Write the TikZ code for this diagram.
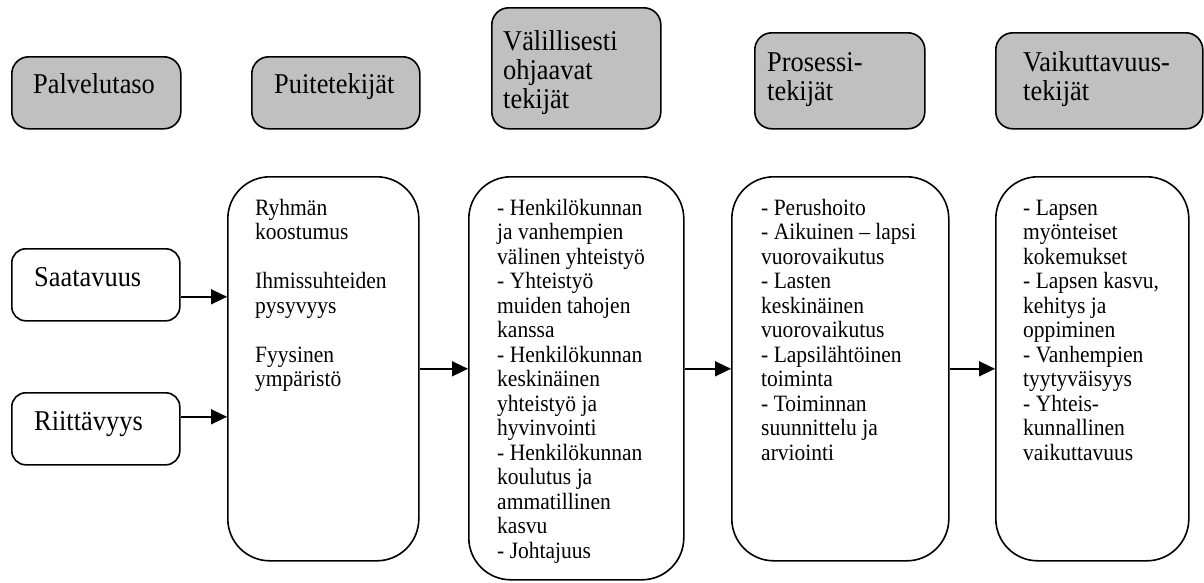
\documentclass[tikz,border=0pt]{standalone}
\usepackage{fontspec}
\setmainfont[FakeStretch=0.92]{Liberation Serif}
\usetikzlibrary{arrows.meta,calc}
\definecolor{hdrgray}{RGB}{192,192,192}
\begin{document}
\begin{tikzpicture}[x=1pt,y=-1pt,
  hdr/.style={draw, line width=1.6pt, fill=hdrgray, rounded corners=17pt, anchor=north west, inner sep=0pt},
  side/.style={draw, line width=1.6pt, rounded corners=14pt, anchor=north west, inner sep=0pt},
  big/.style={draw, line width=1.6pt, rounded corners=42pt, anchor=north west, inner sep=0pt},
  htext/.style={anchor=north west, inner sep=0pt, align=left, font=\fontsize{28.7}{29}\selectfont},
  btext/.style={anchor=north west, inner sep=0pt, align=left, font=\fontsize{23.4}{24.5}\selectfont},
  arr/.style={line width=1.6pt, -{Triangle[length=16pt,width=15pt]}}]
\useasboundingbox (0,0) rectangle (1204,582);

% header boxes
\node[hdr, minimum width=169pt, minimum height=72pt] (h1) at (11,56) {};
\node[hdr, minimum width=168pt, minimum height=72pt] (h2) at (251,56) {};
\node[hdr, minimum width=169pt, minimum height=121pt] (h3) at (491,7) {};
\node[hdr, minimum width=170pt, minimum height=96pt] (h4) at (754,32) {};
\node[hdr, minimum width=207pt, minimum height=96pt] (h5) at (995,32) {};

\node[htext] (h1t) at (33,72.7) {\strut Palvelutaso};
\node[htext] (h2t) at (274,72.7) {\strut Puitetekijät};
\node[htext] (h3t) at (503,29.7) {\strut Välillisesti\\ohjaavat\\tekijät};
\node[htext] (h4t) at (767,50.7) {\strut Prosessi-\\tekijät};
\node[htext] (h5t) at (1023,50.7) {\strut Vaikuttavuus-\\tekijät};

% side boxes
\node[side, minimum width=168pt, minimum height=72pt] (s1) at (11,248) {};
\node[side, minimum width=168pt, minimum height=72pt] (s2) at (11,392) {};
\node[htext] (s1t) at (34,265.7) {\strut Saatavuus};
\node[htext] (s2t) at (34,409.7) {\strut Riittävyys};

% big boxes
\node[big, minimum width=191pt, minimum height=384pt] (b2) at (227,176) {};
\node[big, minimum width=215pt, minimum height=403pt] (b3) at (468,176) {};
\node[big, minimum width=217pt, minimum height=384pt] (b4) at (731,176) {};
\node[big, minimum width=193pt, minimum height=384pt] (b5) at (995,176) {};

\node[btext] (b2t) at (255,197.85) {\strut Ryhmän\\koostumus\\\strut\\Ihmissuhteiden\\pysyvyys\\\strut\\Fyysinen\\ympäristö};
\node[btext] (b3t) at (497,197.85) {\strut - Henkilökunnan\\ja vanhempien\\välinen yhteistyö\\- Yhteistyö\\muiden tahojen\\kanssa\\- Henkilökunnan\\keskinäinen\\yhteistyö ja\\hyvinvointi\\- Henkilökunnan\\koulutus ja\\ammatillinen\\kasvu\\- Johtajuus};
\node[btext] (b4t) at (761,197.85) {\strut - Perushoito\\- Aikuinen – lapsi\\vuorovaikutus\\- Lasten\\keskinäinen\\vuorovaikutus\\- Lapsilähtöinen\\toiminta\\- Toiminnan\\suunnittelu ja\\arviointi};
\node[btext] (b5t) at (1023,197.85) {\strut - Lapsen\\myönteiset\\kokemukset\\- Lapsen kasvu,\\kehitys ja\\oppiminen\\- Vanhempien\\tyytyväisyys\\- Yhteis-\\kunnallinen\\vaikuttavuus};

% connectors
\coordinate (a1) at ($(s1.east)+(0,12)$);
\coordinate (a2) at ($(s2.east)+(0,-12)$);
\draw[arr] (a1) -- (a1 -| b2.west);
\draw[arr] (a2) -- (a2 -| b2.west);
\draw[arr] (b2.east) -- (b2.east -| b3.west);
\draw[arr] (b3.east |- b4.west) -- (b4.west);
\draw[arr] (b4.east) -- (b5.west);
\end{tikzpicture}
\end{document}
